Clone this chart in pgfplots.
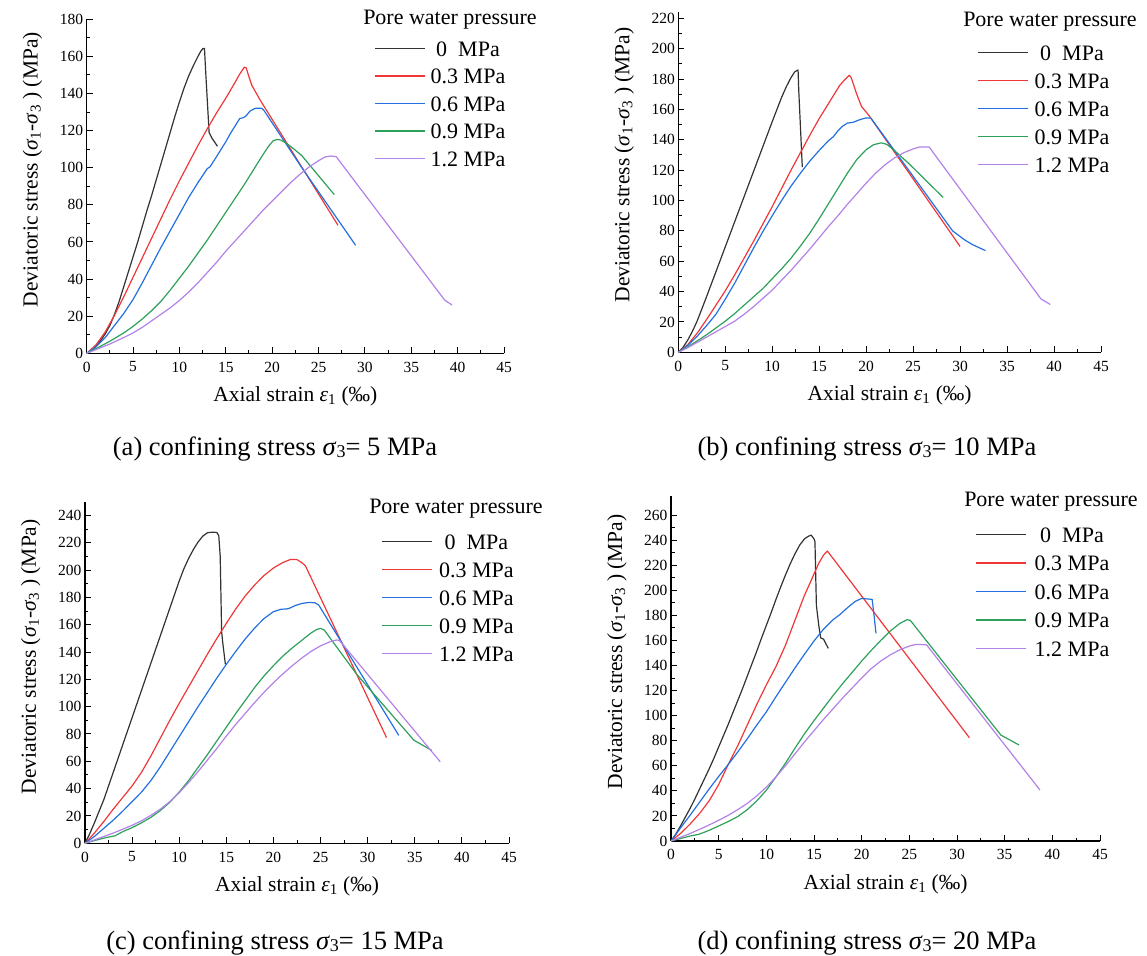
\documentclass[border=0pt]{standalone}
\usepackage{fontspec}
\setmainfont{Liberation Serif}
\usepackage{pgfplots}
\pgfplotsset{compat=1.18}

\definecolor{c0}{RGB}{50,50,50}
\definecolor{c1}{RGB}{240,55,55}
\definecolor{c2}{RGB}{35,112,225}
\definecolor{c3}{RGB}{45,160,90}
\definecolor{c4}{RGB}{178,130,232}

\pgfplotsset{
  panel/.style={
    scale only axis, anchor=south west,
    axis lines=left, axis line style={-, line width=1.1bp, black},
    xmin=0, xmax=45, ymin=0, enlargelimits=false,
    xtick={0,5,...,45}, minor x tick num=1, minor y tick num=1,
    tick align=inside, major tick length=6bp, minor tick length=3.5bp,
    every tick/.style={line width=1bp, black},
    tick label style={font=\fontsize{15.5bp}{18bp}\selectfont},
    /pgf/number format/assume math mode=true,
    xticklabel style={yshift=-5bp},
    label style={font=\fontsize{21.5bp}{25bp}\selectfont},
    xlabel={Axial strain \textit{ε}\textsubscript{1} (‰)},
    ylabel={Deviatoric stress (\textit{σ}\textsubscript{1}-\textit{σ}\textsubscript{3} ) (MPa)},
    xlabel style={at={(axis description cs:0.5,0)}, anchor=base, yshift=-48.4bp},
    every axis plot/.append style={line width=1.2bp, line join=round},
    clip=false,
  },
}
\tikzset{
  subcaption/.style={font=\fontsize{26.5bp}{30bp}\selectfont, anchor=base},
  legendtitle/.style={font=\fontsize{22bp}{26bp}\selectfont, anchor=center},
  legendtext/.style={font=\fontsize{22bp}{26bp}\selectfont, anchor=base},
}
\newcommand{\sthree}{\textit{σ}\raisebox{-2.5bp}{\fontsize{18bp}{18bp}\selectfont 3}}
% key of a legend: #1 line start x, #2 text centre x, #3 row y (downwards), #4 colour, #5 text
\newcommand{\legendkey}[5]{%
  \draw[#4, line width=1.3bp] ({(#1)*1bp},{-(#3)*1bp}) -- ++(50bp,0);
  \node[legendtext] at ({(#2)*1bp},{-(#3)*1bp-7.5bp}) {#5};}
% full legend: #1 line start x, #2 text centre x, #3 first row y, #4 row step, #5 title x, #6 title y
\newcommand{\porelegend}[6]{%
  \node[legendtitle] at ({(#5)*1bp},{-(#6)*1bp}) {Pore water pressure};
  \legendkey{#1}{#2}{#3}{c0}{0\ \ MPa}
  \legendkey{#1}{#2}{#3+#4}{c1}{0.3 MPa}
  \legendkey{#1}{#2}{#3+2*#4}{c2}{0.6 MPa}
  \legendkey{#1}{#2}{#3+3*#4}{c3}{0.9 MPa}
  \legendkey{#1}{#2}{#3+4*#4}{c4}{1.2 MPa}}

\begin{document}
\begin{tikzpicture}
\useasboundingbox (0,0) rectangle (1147bp,-956bp);

% ---------------- (a) sigma3 = 5 MPa ----------------
\begin{axis}[panel, at={(86.7bp,-353.3bp)}, width=417.3bp, height=334bp,
  ymax=180, ytick={0,20,...,180},
  ylabel style={at={(axis description cs:-0.13,0.55)}, anchor=center}]
\addplot[color=c0] coordinates {(0,0) (0.5,1.5) (1,3.8) (1.5,6.8) (2,10.5) (2.5,15) (3,21) (3.5,28) (4,36) (4.5,44) (5,52) (5.5,60) (6,68.5) (6.5,77) (7,85) (7.5,93.5) (8,102) (8.5,110.5) (9,119) (9.5,127.5) (10,135.5) (10.5,143) (11,149.5) (11.5,155) (12,160) (12.3,162.8) (12.55,164.3) (12.7,164.3) (12.85,150) (13.2,119) (13.5,116) (14.1,111.6)};
\addplot[color=c1] coordinates {(0,0) (1,4.5) (2,11.5) (3,20.5) (4,30.5) (5,41) (6,51.5) (7,62) (8,72.5) (9,83) (10,93) (11,102.5) (12,112) (13,121) (14,129.5) (15,137.5) (16,146) (16.5,150.5) (17,154.2) (17.2,153.8) (17.5,149) (17.8,144.5) (18.7,136.5) (22.9,102.7) (27.1,69)};
\addplot[color=c2] coordinates {(0,0) (1,3.5) (2,8.5) (3,15) (4,21.5) (5,29) (6,38) (7,47.5) (8,57) (9,66) (10,75) (11,84) (12,92) (13,99.5) (13.3,100.5) (14,106) (15,114) (15.5,118.5) (16,122.5) (16.5,126.5) (16.9,127) (17.2,128) (17.6,130.5) (18.2,132.1) (18.9,132) (19.1,131) (23,101.5) (29,58.2)};
\addplot[color=c3] coordinates {(0,0) (1,2.5) (2.5,6.5) (4,11) (5,14.5) (6,18.5) (7,23) (8,28) (9,34) (10,40.5) (11,47) (12,54) (13,61) (14,68.5) (15,76) (16,83.5) (17,91) (18,99) (19,107) (19.6,111.5) (20.1,114.5) (20.5,115.2) (20.9,115) (21.5,113.3) (22.5,109.5) (23.2,106.5) (26.7,85.5)};
\addplot[color=c4] coordinates {(0,0) (1,2) (2.5,5) (4,8.5) (5,11) (6,14) (7,17.5) (8,21) (9,24.5) (10,28.5) (11,33) (12,38) (13,43.5) (14,49) (15,55) (16,60.5) (17,66) (18,71.5) (19,77) (20,82) (21,87) (22,92) (23,96.5) (24,100.5) (25,103.8) (25.7,105.8) (26.3,106.3) (26.9,106) (30,85.5) (35,52.5) (38.6,28.7) (39.4,26)};
\end{axis}
\porelegend{375}{468}{48.5}{27.5}{450}{19.5}
\node[subcaption] at (275bp,-455bp) {(a) confining stress \sthree= 5 MPa};

% ---------------- (b) sigma3 = 10 MPa ----------------
\begin{axis}[panel, at={(678.3bp,-352.3bp)}, width=422.7bp, height=340bp,
  ymax=224, ytick={0,20,...,220},
  ylabel style={at={(axis description cs:-0.128,0.551)}, anchor=center}]
\addplot[color=c0] coordinates {(0,0) (0.5,3.2) (1,8) (1.5,13.8) (2,20.5) (3,36.5) (4,53) (5,69.5) (6,86) (7,102.5) (8,119) (9,135.5) (10,152) (10.5,160) (11,168) (11.5,175) (12,181) (12.4,184.8) (12.75,186) (12.82,173) (13.2,122)};
\addplot[color=c1] coordinates {(0,0) (1,5) (2,12.5) (3,21.5) (4,31) (5,40.5) (6,51) (7,62) (8,73) (9,84.5) (10,96) (11,108) (12,120) (13,131.5) (14,143) (15,154) (16,164) (16.7,171) (17.2,176) (17.7,179.5) (18.2,182.5) (18.4,181) (19,170) (19.5,162) (20.3,156) (25.15,112.9) (30,69.7)};
\addplot[color=c2] coordinates {(0,0) (1,4.5) (2,10.5) (3,17.5) (4,25) (5,35) (6,45.5) (7,57) (8,68.5) (9,79.5) (10,90) (11,100) (12,109.5) (13,118) (14,126) (15,133) (16,139.5) (16.5,142) (17,146) (17.5,149) (18,151) (18.6,151.5) (19.3,153.2) (19.9,154.3) (20.5,154.3) (23,133) (29.2,80) (30.5,74) (31.3,71) (32.7,67)};
\addplot[color=c3] coordinates {(0,0) (1,3.5) (2,7.5) (3,11.5) (4,16) (5,20.5) (6,25.5) (7,31) (8,36.5) (9,42) (10,48.5) (11,55) (12,62) (13,70) (14,78.5) (15,88) (16,98) (17,108) (18,118) (19,127) (20,133.5) (20.8,136.8) (21.6,138) (22.2,137) (23,133) (24.6,124) (28.2,102)};
\addplot[color=c4] coordinates {(0,0) (1,3) (2,6.5) (3,10) (4,13.5) (5,17) (6,20.5) (7,25) (8,30) (9,35.5) (10,41) (11,47.5) (12,54) (13,61) (14,68) (15,75.5) (16,83) (17,90) (18,97.5) (19,104.5) (20,111.5) (21,118) (22,123.5) (23,128) (24,131.5) (25,134) (25.7,135.3) (26.7,135.3) (30,107.5) (35,65.5) (38.6,35.2) (39.6,31.5)};
\end{axis}
\porelegend{978}{1072}{52.5}{28}{1050}{21.7}
\node[subcaption] at (867bp,-455bp) {(b) confining stress \sthree= 10 MPa};

% ---------------- (c) sigma3 = 15 MPa ----------------
\begin{axis}[panel, at={(85bp,-843.3bp)}, width=424bp, height=341.6bp,
  ymax=250, ytick={0,20,...,240},
  ylabel style={at={(axis description cs:-0.128,0.546)}, anchor=center}]
\addplot[color=c0] coordinates {(0,0) (0.5,7) (1,15) (1.5,23.5) (2,32) (2.5,42) (3,52) (4,72) (5,92) (6,112) (7,132) (8,152) (9,172) (10,192) (10.5,201) (11,208.5) (11.5,215) (12,220.5) (12.5,224.8) (13,227.3) (13.5,227.7) (14,227.5) (14.2,225) (14.35,210) (14.5,155) (14.6,148) (14.9,131)};
\addplot[color=c1] coordinates {(0,0) (1,7.5) (2,16) (3,25) (4,33.5) (5,42) (6,52) (7,64) (8,77) (9,90) (10,102.5) (11,114.5) (12,126.5) (13,138.5) (14,150) (15,161) (16,171.5) (17,181) (18,189) (19,196) (20,201.5) (21,205.5) (21.8,207.7) (22.5,207.6) (23,205.5) (23.4,203) (27.7,140.2) (32,77.4)};
\addplot[color=c2] coordinates {(0,0) (1,5) (2,11) (3,17) (4,23.5) (5,30.5) (6,37.5) (7,46) (8,56) (9,67) (10,78) (11,89) (12,100) (13,110.5) (14,121) (15,131) (16,140.5) (17,149.5) (18,157.5) (19,164.5) (20,169.5) (20.8,171.3) (21.4,171.5) (21.7,172) (22.3,174) (23,175.5) (23.8,176.3) (24.4,176) (24.8,174.4) (29.05,126.7) (33.3,79)};
\addplot[color=c3] coordinates {(0,0) (1,2) (2,3.8) (2.8,5) (3.2,5.5) (4,8.5) (5,11.5) (6,15) (7,19) (8,24) (9,30) (10,37.5) (11,46) (12,55.5) (13,65) (14,75) (15,85) (16,95) (17,104.5) (18,114) (19,122.5) (20,130) (21,137) (22,143) (23,148.5) (24,154) (24.6,156.5) (25,157.3) (25.4,156) (28.8,124) (34.9,75.5) (36.8,68)};
\addplot[color=c4] coordinates {(0,0) (1,2.5) (2,5) (3,7.5) (4,10.3) (5,13.2) (6,16.5) (7,20.5) (8,25) (9,30.5) (10,37) (11,44.5) (12,52.5) (13,61) (14,69.5) (15,78.5) (16,87) (17,95) (18,103) (19,110.5) (20,117.5) (21,124) (22,130) (23,135.5) (24,140.5) (25,144.5) (26,147.5) (26.7,148.8) (27,148.5) (32.35,104.1) (37.7,59.7)};
\end{axis}
\porelegend{382}{476.4}{541.5}{28}{456}{508.3}
\node[subcaption] at (275bp,-949bp) {(c) confining stress \sthree= 15 MPa};

% ---------------- (d) sigma3 = 20 MPa ----------------
\begin{axis}[panel, at={(671bp,-841bp)}, width=429bp, height=344.8bp,
  ymax=275, ytick={0,20,...,260},
  ylabel style={at={(axis description cs:-0.126,0.5485)}, anchor=center}]
\addplot[color=c0] coordinates {(0,0) (0.5,5.5) (1,12) (1.5,19) (2,26) (2.5,33.5) (3,41.5) (3.5,49.5) (4,57.5) (4.5,66) (5,75) (5.5,84) (6,93) (6.5,102.5) (7,112) (7.5,121.5) (8,131.5) (8.5,141.5) (9,151.5) (9.5,162) (10,172) (10.5,182) (11,192.5) (11.5,202.5) (12,212) (12.5,221) (13,229) (13.5,236) (14,241) (14.4,243) (14.7,244) (15,241) (15.1,238.7) (15.25,188) (15.5,172) (15.7,162) (16,161) (16.5,153.6)};
\addplot[color=c1] coordinates {(0,0) (1,6) (2,13.5) (3,22) (4,32) (5,45) (6,61) (7,76) (8,92.5) (9,109) (10,124.5) (11,139) (12,156) (13,176) (14,196) (14.3,201) (15,213) (15.5,221.5) (16,228) (16.4,231.3) (23.85,156.85) (31.3,82.4)};
\addplot[color=c2] coordinates {(0,0) (0.5,5) (1,10.5) (1.5,15.5) (2,20.5) (3,31) (4,41.5) (5,51.5) (6,61) (7,71) (8,81.5) (9,92.5) (10,103) (11,115) (12,126.5) (13,138) (14,149) (15,159.5) (16,169) (17,176.5) (17.7,180.5) (18.5,186) (19.3,191) (20,193.5) (21.1,192.7) (21.3,180) (21.5,165.6)};
\addplot[color=c3] coordinates {(0,0) (1,2) (2,4) (2.9,5.3) (4,8.5) (5,12) (6,15.5) (7,19.5) (8,25) (9,32) (10,40.5) (11,51) (12,62) (13,74) (14,85.5) (15,96) (16,106) (17,116) (18,125.5) (19,134.5) (20,143.5) (21,152) (22,160) (23,167.5) (24,173.5) (24.75,176.5) (25.1,176) (34.6,84.5) (36.5,76.6)};
\addplot[color=c4] coordinates {(0,0) (1,3) (2,6) (3,9.3) (4,12.8) (5,16.5) (6,20.5) (7,25) (8,30) (9,36) (10,43) (11,51) (12,60) (13,69.5) (14,79) (15,88) (16,97) (17,105.5) (18,114) (19,122) (20,130) (21,137.5) (22,143.5) (23,148.5) (24,152.5) (25,155.5) (25.7,156.8) (26.8,156.5) (32.75,98.6) (38.7,40.7)};
\end{axis}
\porelegend{976}{1072}{534.5}{28.5}{1051}{501.7}
\node[subcaption] at (867bp,-949bp) {(d) confining stress \sthree= 20 MPa};
\end{tikzpicture}
\end{document}
